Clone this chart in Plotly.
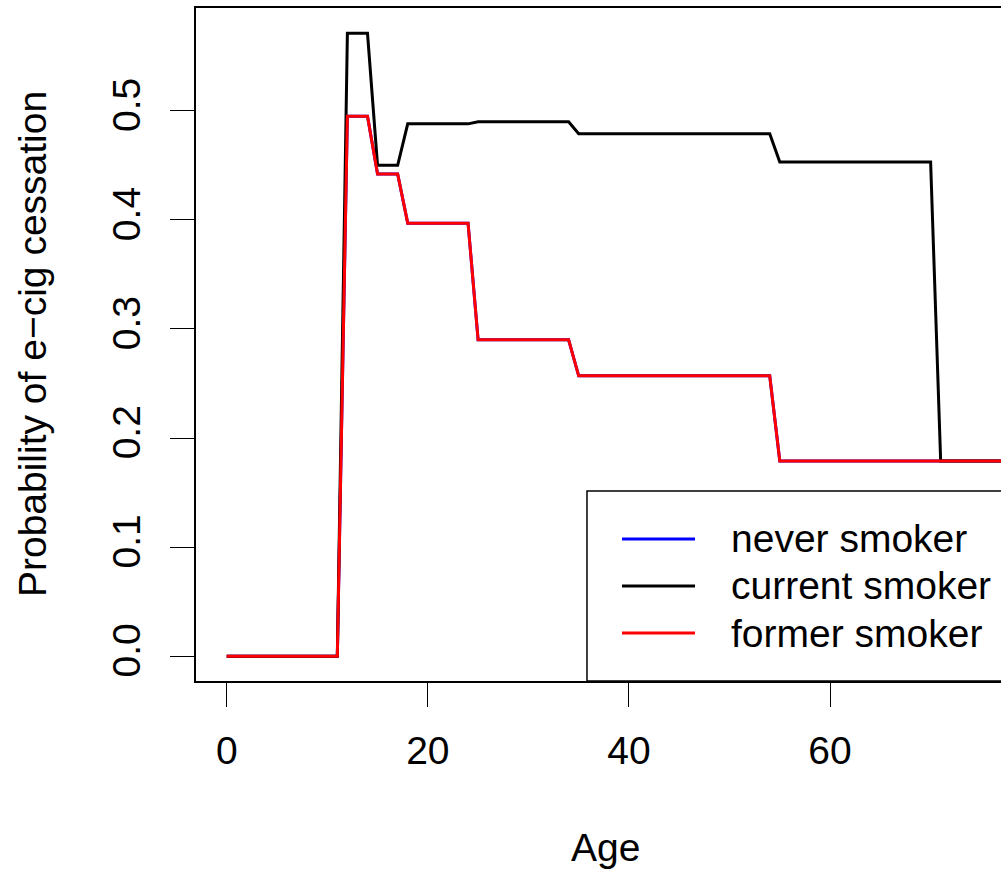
import plotly.graph_objects as go

ages = list(range(0, 78))

current_smoker = ([0.0] * 12 + [0.571] * 3 + [0.450] * 3 + [0.488] * 7 +
                  [0.490] * 10 + [0.479] * 20 + [0.453] * 16 + [0.179] * 7)
former_smoker = ([0.0] * 12 + [0.495] * 3 + [0.442] * 3 + [0.397] * 7 +
                 [0.290] * 10 + [0.257] * 20 + [0.179] * 23)
never_smoker = ([0.0] * 12 + [0.495] * 3 + [0.442] * 3 + [0.397] * 7 +
                [0.290] * 10 + [0.257] * 20 + [0.179] * 23)

series_names = ["never smoker", "current smoker", "former smoker"]
series_colors = ["#0000FF", "#000000", "#FF0000"]
x_ticks = [0, 20, 40, 60]
y_ticks = [0.0, 0.1, 0.2, 0.3, 0.4, 0.5]
y_ticktext = ["0.0", "0.1", "0.2", "0.3", "0.4", "0.5"]

FONT = "Liberation Sans, Arial, sans-serif"
FS = 39

fig = go.Figure()
for name, vals, col in zip(series_names, [never_smoker, current_smoker, former_smoker], series_colors):
    fig.add_trace(go.Scatter(x=ages, y=vals, mode="lines", name=name,
                             line=dict(color=col, width=3), showlegend=False))

fig.update_layout(
    width=1001, height=869,
    margin=dict(l=196, r=0, t=8, b=188),
    paper_bgcolor="white", plot_bgcolor="white",
    font=dict(family=FONT, size=FS, color="black"),
)
fig.update_xaxes(range=[-3.055, 77.0], tickvals=x_ticks, ticks="outside", ticklen=24,
                 tickwidth=1, tickcolor="black", showline=True, linecolor="black",
                 linewidth=1.5, mirror=True, showgrid=False, zeroline=False,
                 ticklabelstandoff=10,
                 tickfont=dict(family=FONT, size=FS))
fig.update_yaxes(range=[-0.0227, 0.5942], tickvals=y_ticks, ticktext=y_ticktext,
                 ticks="outside", ticklen=24, tickwidth=1, tickcolor="black",
                 showline=True, linecolor="black", linewidth=1.5, mirror=False,
                 showgrid=False, zeroline=False, tickangle=-90,
                 ticklabelstandoff=15,
                 tickfont=dict(family=FONT, size=FS))

# axis titles
fig.add_annotation(text="Age", xref="paper", yref="paper", x=0.509, y=-0.248,
                   xanchor="center", yanchor="middle", showarrow=False,
                   font=dict(family=FONT, size=FS))
fig.add_annotation(text="Probability of e\u2212cig cessation", xref="paper", yref="paper",
                   x=-0.2037, y=0.5007, xanchor="center", yanchor="middle",
                   textangle=-90, showarrow=False, font=dict(family=FONT, size=FS))

# legend box (drawn manually to match R-style legend)
fig.add_shape(type="rect", xref="paper", yref="paper", x0=0.4857, x1=1.05,
              y0=0.0, y1=0.2823, line=dict(color="black", width=1.5))
leg_y = [0.2110, 0.1412, 0.0713]
for name, col, yy in zip(series_names, series_colors, leg_y):
    fig.add_shape(type="line", xref="paper", yref="paper", x0=0.5292, x1=0.6199,
                  y0=yy, y1=yy, line=dict(color=col, width=3))
    fig.add_annotation(text=name, xref="paper", yref="paper", x=0.662, y=yy,
                       xanchor="left", yanchor="middle", showarrow=False,
                       font=dict(family=FONT, size=FS))

fig.write_html("out.html")
